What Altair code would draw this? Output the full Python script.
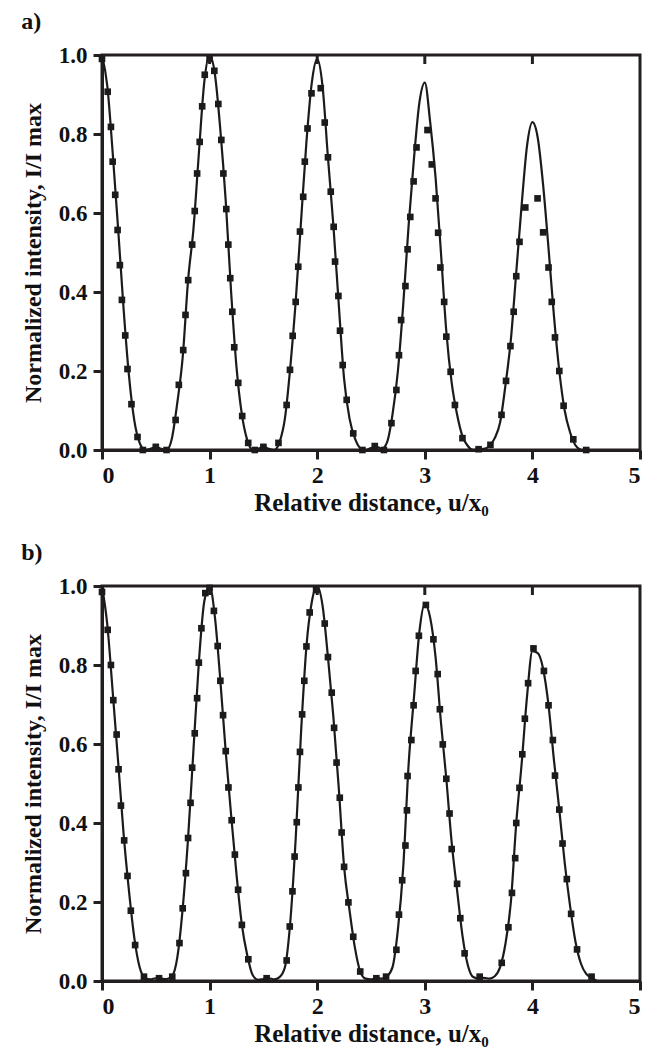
import altair as alt
import pandas as pd

# ---------------- panel a ----------------
a_line_x = [0.00, 0.05, 0.10, 0.15, 0.20, 0.25, 0.30, 0.35, 0.40, 0.45, 0.50, 0.55, 0.60, 0.65, 0.70, 0.75, 0.80, 0.85, 0.90, 0.95,
            1.00, 1.05, 1.10, 1.15, 1.20, 1.25, 1.30, 1.35, 1.40, 1.45, 1.50, 1.55, 1.60, 1.65, 1.70, 1.75, 1.80, 1.85, 1.90, 1.95,
            2.00, 2.05, 2.10, 2.15, 2.20, 2.25, 2.30, 2.35, 2.40, 2.45, 2.50, 2.55, 2.60, 2.65, 2.70, 2.75, 2.80, 2.85, 2.90, 2.95,
            3.00, 3.05, 3.10, 3.15, 3.20, 3.25, 3.30, 3.35, 3.40, 3.45, 3.50, 3.55, 3.60, 3.65, 3.70, 3.75, 3.80, 3.85, 3.90, 3.95,
            4.00, 4.05, 4.10, 4.15, 4.20, 4.25, 4.30, 4.35, 4.40, 4.45]
a_line_y = [1.00, 0.92, 0.75, 0.56, 0.36, 0.19, 0.075, 0.018, 0.0, 0.003, 0.008, 0.003, 0.0, 0.03, 0.12, 0.235, 0.43, 0.56, 0.75, 0.93,
            1.00, 0.95, 0.81, 0.63, 0.40, 0.21, 0.09, 0.025, 0.0, 0.003, 0.008, 0.003, 0.0, 0.02, 0.08, 0.21, 0.375, 0.58, 0.78, 0.93,
            0.99, 0.92, 0.74, 0.57, 0.37, 0.18, 0.08, 0.03, 0.005, 0.0, 0.005, 0.008, 0.003, 0.02, 0.09, 0.20, 0.37, 0.57, 0.74, 0.88,
            0.93, 0.83, 0.69, 0.50, 0.30, 0.17, 0.09, 0.035, 0.01, 0.0, 0.002, 0.003, 0.01, 0.03, 0.07, 0.165, 0.28, 0.45, 0.62, 0.77,
            0.83, 0.79, 0.67, 0.51, 0.34, 0.20, 0.10, 0.045, 0.012, 0.0]

a_pts_x = [0.0, 0.053, 0.083, 0.099, 0.123, 0.145, 0.166, 0.185, 0.216, 0.237, 0.274, 0.33, 0.38, 0.50, 0.60,
           0.684, 0.714, 0.755, 0.776, 0.801, 0.838, 0.862, 0.884, 0.908, 0.931, 0.955, 1.0,
           1.044, 1.081, 1.109, 1.128, 1.155, 1.174, 1.192, 1.211, 1.229, 1.266, 1.303, 1.359, 1.42, 1.50, 1.64,
           1.716, 1.747, 1.772, 1.80, 1.824, 1.84, 1.87, 1.885, 1.91, 1.947,
           2.033, 2.07, 2.10, 2.126, 2.153, 2.166, 2.197, 2.212, 2.237, 2.274, 2.335, 2.42, 2.535, 2.62,
           2.69, 2.736, 2.76, 2.78, 2.82, 2.84, 2.865, 2.896, 2.923,
           3.025, 3.065, 3.10, 3.124, 3.145, 3.18, 3.20, 3.24, 3.28, 3.35, 3.50, 3.61,
           3.713, 3.755, 3.796, 3.826, 3.85, 3.88, 3.934,
           4.048, 4.10, 4.15, 4.18, 4.21, 4.25, 4.29, 4.38, 4.50]
a_pts_y = [0.99, 0.907, 0.818, 0.73, 0.646, 0.557, 0.468, 0.38, 0.29, 0.205, 0.116, 0.033, 0.0, 0.008, 0.0,
           0.076, 0.165, 0.253, 0.342, 0.43, 0.52, 0.605, 0.70, 0.78, 0.87, 0.95, 0.99,
           0.96, 0.876, 0.785, 0.70, 0.61, 0.52, 0.435, 0.35, 0.26, 0.17, 0.086, 0.018, 0.0, 0.008, 0.018,
           0.114, 0.203, 0.289, 0.375, 0.464, 0.553, 0.641, 0.73, 0.814, 0.903,
           0.916, 0.829, 0.741, 0.654, 0.565, 0.477, 0.39, 0.302, 0.215, 0.127, 0.042, 0.0, 0.01, 0.0,
           0.068, 0.152, 0.24, 0.329, 0.415, 0.508, 0.59, 0.68, 0.766,
           0.81, 0.723, 0.637, 0.55, 0.462, 0.375, 0.287, 0.198, 0.114, 0.03, 0.002, 0.013,
           0.089, 0.175, 0.263, 0.35, 0.44, 0.527, 0.614,
           0.637, 0.551, 0.462, 0.375, 0.285, 0.20, 0.112, 0.027, 0.0]

# ---------------- panel b ----------------
b_line_x = a_line_x + [4.50, 4.55, 4.60]
b_line_y = [1.00, 0.90, 0.73, 0.555, 0.375, 0.23, 0.11, 0.035, 0.008, 0.004, 0.007, 0.006, 0.005, 0.012, 0.06, 0.184, 0.362, 0.585, 0.806, 0.96,
            1.00, 0.92, 0.76, 0.58, 0.42, 0.27, 0.142, 0.065, 0.015, 0.003, 0.005, 0.007, 0.004, 0.01, 0.035, 0.15, 0.36, 0.63, 0.847, 0.96,
            1.00, 0.95, 0.82, 0.67, 0.49, 0.289, 0.18, 0.085, 0.024, 0.006, 0.004, 0.007, 0.006, 0.012, 0.035, 0.13, 0.29, 0.55, 0.72, 0.885,
            0.955, 0.92, 0.82, 0.655, 0.512, 0.35, 0.23, 0.115, 0.04, 0.01, 0.006, 0.008, 0.006, 0.012, 0.035, 0.095, 0.20, 0.40, 0.55, 0.72,
            0.835, 0.83, 0.79, 0.698, 0.56, 0.434, 0.30, 0.19, 0.10, 0.045, 0.018, 0.008, 0.0]

b_pts_x = [0.0, 0.053, 0.083, 0.105, 0.136, 0.154, 0.176, 0.206, 0.237, 0.268, 0.308, 0.39, 0.53, 0.653,
           0.72, 0.75, 0.78, 0.80, 0.823, 0.838, 0.862, 0.884, 0.90, 0.924, 0.96, 1.0,
           1.04, 1.075, 1.10, 1.125, 1.15, 1.175, 1.205, 1.235, 1.265, 1.30, 1.36, 1.53,
           1.716, 1.745, 1.77, 1.79, 1.81, 1.825, 1.84, 1.86, 1.88, 1.90, 1.93, 1.99,
           2.07, 2.10, 2.135, 2.157, 2.18, 2.21, 2.227, 2.25, 2.29, 2.335, 2.40, 2.55, 2.64,
           2.736, 2.76, 2.79, 2.82, 2.834, 2.84, 2.875, 2.896, 2.915, 2.945, 3.01,
           3.08, 3.12, 3.14, 3.167, 3.20, 3.23, 3.25, 3.30, 3.33, 3.37, 3.51,
           3.715, 3.777, 3.81, 3.84, 3.85, 3.88, 3.906, 3.93, 3.96, 4.01,
           4.107, 4.15, 4.19, 4.21, 4.25, 4.28, 4.32, 4.36, 4.415, 4.55]
b_pts_y = [0.985, 0.889, 0.80, 0.711, 0.624, 0.536, 0.444, 0.356, 0.266, 0.178, 0.091, 0.011, 0.007, 0.011,
           0.096, 0.184, 0.273, 0.362, 0.451, 0.54, 0.627, 0.716, 0.806, 0.893, 0.982, 0.995,
           0.937, 0.848, 0.76, 0.673, 0.582, 0.49, 0.407, 0.32, 0.231, 0.142, 0.055, 0.007,
           0.052, 0.138, 0.227, 0.315, 0.402, 0.49, 0.58, 0.675, 0.76, 0.847, 0.933, 0.99,
           0.905, 0.82, 0.73, 0.641, 0.553, 0.464, 0.376, 0.289, 0.199, 0.112, 0.024, 0.007, 0.011,
           0.079, 0.168, 0.255, 0.343, 0.432, 0.519, 0.61, 0.698, 0.785, 0.874, 0.952,
           0.865, 0.777, 0.688, 0.599, 0.512, 0.424, 0.334, 0.246, 0.159, 0.07, 0.011,
           0.046, 0.136, 0.223, 0.311, 0.40, 0.489, 0.574, 0.664, 0.754, 0.842,
           0.785, 0.698, 0.61, 0.52, 0.434, 0.348, 0.258, 0.17, 0.08, 0.011]

x_ticks = [0, 1, 2, 3, 4, 5]
y_ticks = [0.0, 0.2, 0.4, 0.6, 0.8, 1.0]
top_ticks = [1, 2, 3, 4]

FONT = "Liberation Serif"
INK = "#1c1a1a"
FRAME = "#231f20"


def panel(lx, ly, px, py, label, xtitle):
    xs = alt.X("x:Q", scale=alt.Scale(domain=[0, 5], nice=False, zero=False),
               axis=alt.Axis(values=x_ticks, format="d", title=xtitle))
    ys = alt.Y("y:Q", scale=alt.Scale(domain=[0, 1], nice=False),
               axis=alt.Axis(values=y_ticks, format=".1f", title="Normalized intensity, I/I max"))
    line = alt.Chart(pd.DataFrame({"x": lx, "y": ly})).mark_line(
        color=INK, strokeWidth=2.2, interpolate="monotone").encode(x=xs, y=ys)
    pts = alt.Chart(pd.DataFrame({"x": px, "y": py})).mark_square(
        size=44, color=INK, opacity=1).encode(x="x:Q", y="y:Q")
    tt = alt.Chart(pd.DataFrame({"x": top_ticks})).mark_rule(
        color=FRAME, strokeWidth=3).encode(x="x:Q", y=alt.value(0), y2=alt.value(9))
    return alt.layer(line, pts, tt).properties(
        width=538, height=395,
        title=alt.TitleParams(label, anchor="start", frame="bounds", fontSize=24,
                              font=FONT, fontWeight="bold", offset=10, color="#111"))


pa = panel(a_line_x, a_line_y, a_pts_x, a_pts_y, "a)", "Relative distance, u/x₀")
pb = panel(b_line_x, b_line_y, b_pts_x, b_pts_y, "b)", "Relative distance, u/x₀")

chart = alt.vconcat(pa, pb, spacing=22).properties(
    padding={"left": 11, "top": 0, "right": 0, "bottom": 0}
).configure_view(
    stroke=FRAME, strokeWidth=3
).configure_axis(
    grid=False, domainColor=FRAME, domainWidth=3, tickColor=FRAME, tickWidth=3, tickSize=9,
    labelFont=FONT, labelFontSize=23, labelFontWeight="bold", labelColor="#111", labelPadding=6,
    titleFont=FONT, titleFontSize=24, titleFontWeight="bold", titleColor="#111"
).configure_axisY(
    titlePadding=13
).configure_axisX(
    titlePadding=3, titleFontSize=25, labelFontSize=24, labelPadding=4
)

chart.save("out.html", embed_options={"renderer": "svg", "actions": False})
